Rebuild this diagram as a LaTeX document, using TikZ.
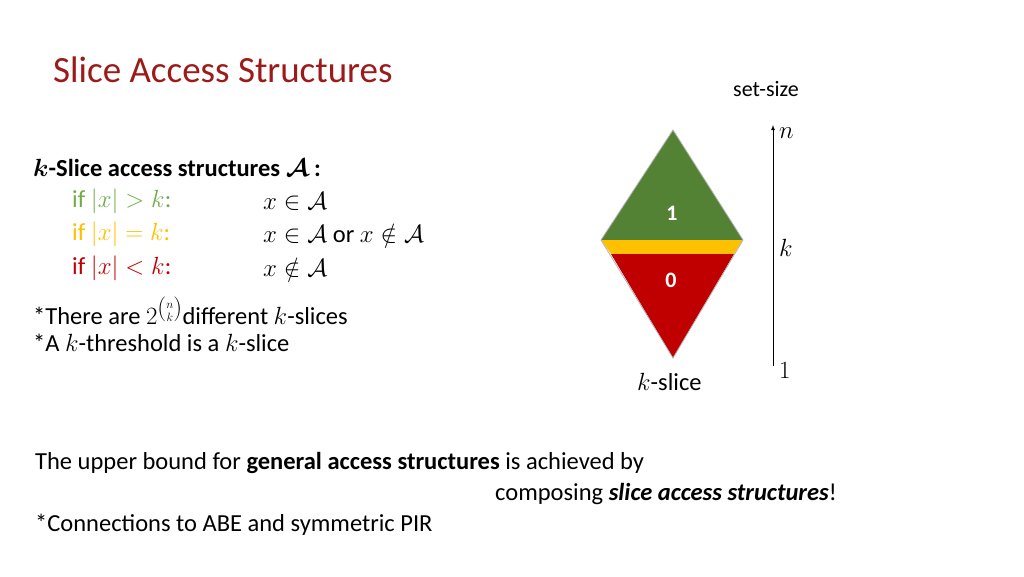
\documentclass[tikz,border=0pt]{standalone}
\usepackage{amsmath,amssymb}
\usepackage{fontspec}
\setmainfont{Carlito}
\usepackage{xcolor}
\definecolor{titlered}{HTML}{9C1A1A}
\definecolor{lgreen}{HTML}{70AD47}
\definecolor{lyellow}{HTML}{FFC000}
\definecolor{lred}{HTML}{C00000}
\definecolor{dgreen}{HTML}{548235}

\begin{document}
\begin{tikzpicture}
[x=1pt,y=-1pt,every node/.style={anchor=west,inner sep=0pt,font=\fontsize{24.5}{28}\selectfont}]
  \useasboundingbox (0,0) rectangle (1024,576);

  \node (title) at (53,70) [font=\fontsize{37}{42}\selectfont,text=titlered] {Slice Access Structures};
  \node (setsize) at (733,89) [font=\fontsize{22}{26}\selectfont] {set-size};

  \node (head) at (33,168) {\bfseries $\boldsymbol{k}$-Slice access structures $\boldsymbol{\mathcal{A}}$ :};
  \node (c1) at (72,201) [text=lgreen] {if $|x|>k$:};
  \node (c2) at (72,234) [text=lyellow] {if $|x|=k$:};
  \node (c3) at (72,268) [text=lred] {if $|x|<k$:};
  \node (r1) at (263,201) {$x\in\mathcal{A}$};
  \node (r2) at (263,234) {$x\in\mathcal{A}$ or $x\notin\mathcal{A}$};
  \node (r3) at (263,268) {$x\notin\mathcal{A}$};
  \node (n1) at (33,311) {*There are $2^{\binom{n}{k}}$different $k$-slices};
  \node (n2) at (33,343) {*A $k$-threshold is a $k$-slice};

  % diamond
  \fill[dgreen] (673,130) -- (743,240) -- (601,240) -- cycle;
  \fill[lyellow] (601,240) -- (743,240) -- (734,254) -- (611,254) -- cycle;
  \fill[lred] (611,254) -- (734,254) -- (673,358) -- cycle;
  \draw[gray!60,thick] (673,130) -- (743,240) -- (673,358) -- (601,240) -- cycle;
  \node (one) at (672,213) [anchor=center,text=white,font=\fontsize{22}{26}\selectfont\bfseries] {1};
  \node (zero) at (671,280) [anchor=center,text=white,font=\fontsize{22}{26}\selectfont\bfseries] {0};
  \node (kslice) at (637,382) {$k$-slice};

  % axis
  \coordinate (lo) at (773,366);
  \coordinate (hi) at (773,125);
  \draw[-latex,thick] (lo) -- (hi);
  \node (ln) at (779,133) {$n$};
  \node (lk) at (779,248) {$k$};
  \node (l1) at (779,370) {$1$};

  \node (b1) at (35,463) {The upper bound for \textbf{general access structures} is achieved by};
  \node (b2) at (495,494) {composing \textbf{\itshape slice access structures}!};
  \node (b3) at (35,525) {*Connections to ABE and symmetric PIR};
\end{tikzpicture}
\end{document}
